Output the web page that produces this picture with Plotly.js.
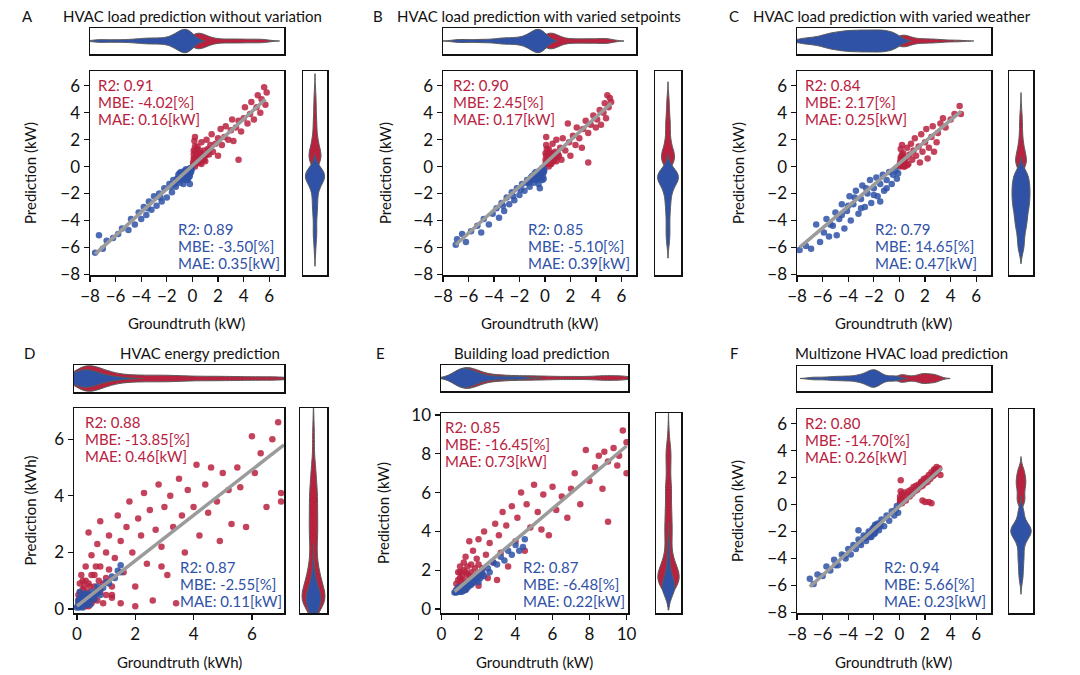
<!DOCTYPE html>
<html>
<head>
<meta charset="utf-8">
<script src="https://cdn.plot.ly/plotly-3.0.1.min.js"></script>
<style>
  body { margin: 0; background: #fff; }
  #chart { width: 1080px; height: 675px; }
</style>
</head>
<body>
<div id="chart"></div>
<script>
// ---- data (groundtruth x, prediction y) ----
// points are densest close to the origin, which is what the marginal violins show

// A: without variation
const aRedX = [0.05,0.1,0.1,0.15,0.2,0.3,0.4,0.5,0.6,0.7, 0.8,0.9,1.0,1.1,1.2,1.3,1.4,1.5,1.6,1.8, 2.0,2.0,2.2,2.3,2.5,2.6,2.8,3.0,3.1,3.2, 3.4,3.6,3.6,3.8,4.0,4.1,4.3,4.5,4.6,4.8, 5.0,5.1,5.3,5.4,5.6,5.7,5.8,0.2,0.3,0.5, 0.7,0.4,1.0,0.2, 0.05,0.1,0.15,0.2,0.25,0.3,0.35,0.4,0.45,0.5, 0.55,0.6,0.65,0.7,0.8,0.9,1.1,1.3];
const aRedY = [0.1,0.6,1.2,1.9,2.2,0.4,1.5,0.3,0.9,1.8, 0.5,1.2,0.8,2.0,1.3,0.9,1.6,2.4,1.1,1.7, 0.8,2.1,2.8,1.6,2.2,3.0,2.0,2.7,3.5,1.9, 2.9,0.5,3.4,2.6,3.6,4.4,3.2,3.9,4.8,3.5, 4.4,5.3,4.0,5.0,5.9,4.6,5.5,0.0,0.9,1.0, 0.2,0.7,0.4,1.5, 0.3,0.9,0.5,1.1,0.2,0.6,1.3,0.4,0.9,0.6, 1.2,0.3,0.8,1.0,0.7,0.5,0.9,1.2];
const aBlueX = [-7.6,-7.3,-7.0,-6.7,-6.2,-5.8,-5.5,-5.0,-4.8,-4.5, -4.2,-4.0,-3.8,-3.6,-3.4,-3.2,-3.0,-2.8,-2.6,-2.4, -2.2,-2.0,-1.8,-1.6,-1.5,-1.3,-1.1,-1.0,-0.9,-0.8, -0.7,-0.6,-0.5,-0.4,-0.3,-0.2,-0.1,-0.2,-0.5,-1.2, -2.5,-3.5,-0.8,-0.3,-1.7, -0.05,-0.1,-0.15,-0.2,-0.25,-0.3,-0.35,-0.4,-0.45,-0.5, -0.55,-0.6,-0.7,-0.75,-0.85,-0.95,-1.0,-1.1,-1.3,-1.4];
const aBlueY = [-6.4,-5.1,-6.1,-5.5,-5.3,-5.0,-4.6,-4.7,-3.9,-4.3, -3.4,-3.9,-3.0,-3.6,-2.6,-3.2,-2.2,-2.9,-2.0,-2.6, -1.6,-2.3,-1.3,-1.9,-1.0,-1.5,-0.6,-1.2,-0.4,-0.9, -1.3,-0.3,-0.7,-1.0,-0.2,-0.5,-0.1,-1.3,-0.2,-0.9, -2.3,-3.1,-0.6,-0.8,-1.5, -0.2,-0.4,-0.1,-0.7,-0.3,-0.5,-0.9,-0.4,-0.6,-0.4, -1.0,-0.6,-0.5,-0.8,-0.7,-1.0,-0.5,-0.9,-1.1,-1.3];
const aFitX = [-7.6, 5.7];
const aFitY = [-6.5, 5.0];

// B: varied setpoints
const bRedX = [0.05,0.05,0.1,0.1,0.2,0.3,0.4,0.5,0.6,0.7, 0.8,0.9,1.0,1.2,1.3,1.4,1.6,1.8,1.9,2.0, 2.2,2.4,2.5,2.7,2.9,3.0,3.2,3.4,3.4,3.6, 3.8,4.0,4.1,4.3,4.4,4.6,4.7,4.8,5.0,5.1, 5.2,4.9,0.3,0.6,0.2, 0.05,0.1,0.1,0.15,0.2,0.25,0.3,0.4,0.45,0.5, 0.55,0.6,0.7,0.8,0.9,1.0,1.1];
const bRedY = [0.2,1.0,1.6,2.2,0.5,1.3,0.2,0.9,1.7,0.4, 1.1,2.0,0.7,1.4,0.5,2.1,1.2,3.2,1.8,0.8, 2.3,1.6,2.9,2.1,1.4,2.8,3.4,0.3,2.5,3.1, 3.8,2.9,3.5,4.2,3.1,4.0,4.7,3.6,4.4,5.1, 4.8,5.3,0.0,0.6,1.0, 0.5,0.3,0.8,1.3,0.2,0.7,0.4,1.0,0.5,0.2, 0.7,1.0,0.6,0.8,0.4,1.0,0.8];
const bBlueX = [-7.0,-6.9,-6.5,-6.2,-5.8,-5.3,-5.0,-4.8,-4.4,-4.1, -3.8,-3.6,-3.4,-3.2,-3.0,-2.8,-2.6,-2.4,-2.2,-2.0, -1.8,-1.6,-1.4,-1.2,-1.0,-0.9,-0.7,-0.6,-0.5,-0.4, -0.3,-0.2,-0.1,-0.2,-0.5,-1.3,-2.5,-0.8,-0.1,-1.9, -3.3,-0.4, -0.05,-0.1,-0.15,-0.2,-0.25,-0.3,-0.35,-0.4,-0.45,-0.5, -0.6,-0.65,-0.7,-0.8,-0.9,-1.0,-1.1,-1.2,-1.4];
const bBlueY = [-5.8,-5.4,-5.0,-5.6,-4.8,-4.4,-4.9,-3.9,-4.3,-3.5, -3.1,-3.8,-2.7,-3.3,-2.3,-2.8,-1.9,-2.5,-1.6,-2.1, -1.3,-1.8,-1.0,-1.5,-0.7,-1.2,-0.4,-0.9,-1.3,-0.3, -0.7,-0.1,-0.4,-1.0,-0.6,-1.2,-2.2,-0.8,-0.9,-1.7, -2.9,-1.6, -0.3,-0.2,-0.6,-0.4,-0.8,-0.3,-0.5,-0.9,-0.4,-0.7, -0.5,-1.0,-0.7,-0.5,-0.9,-1.0,-0.8,-1.1,-1.2];
const bFitX = [-7.0, 5.2];
const bFitY = [-5.8, 4.7];

// C: varied weather
const cRedX = [0.05,0.1,0.1,0.2,0.3,0.4,0.5,0.6,0.7,0.8, 0.9,1.0,1.1,1.2,1.3,1.5,1.6,1.7,1.8,2.0, 2.1,2.2,2.3,2.5,2.6,2.7,2.9,3.0,3.2,3.4, 3.6,4.0,4.3,4.7,4.8,0.3,0.2,0.6, 0.05,0.1,0.1,0.15,0.2,0.25,0.3,0.35,0.4,0.05, 0.2,0.45,0.15,0.3];
const cRedY = [0.1,0.7,1.3,0.3,1.0,0.0,0.6,1.4,0.2,0.9, 1.7,0.5,1.2,2.1,0.8,1.5,0.3,2.4,1.1,1.8, 2.8,0.6,1.4,2.2,3.0,1.1,1.8,2.5,3.2,3.6, 2.9,3.5,3.9,4.5,3.9,0.5,1.6,0.1, 0.3,0.1,0.5,0.2,0.6,0.1,0.3,0.0,0.5,0.0, 0.9,0.2,0.4,0.7];
const cBlueX = [-7.8,-7.3,-6.9,-6.5,-6.2,-5.9,-5.7,-5.5,-5.2,-5.0, -4.9,-4.7,-4.5,-4.3,-4.1,-3.9,-3.8,-3.6,-3.4,-3.2, -3.0,-2.9,-2.7,-2.5,-2.3,-2.2,-2.0,-1.8,-1.7,-1.5, -1.3,-1.2,-1.0,-0.8,-0.6,-0.5,-0.3,-0.2,-0.1,-4.0, -3.0,-2.0,-1.5,-4.5,-2.6,-3.5,-1.0,-5.4];
const cBlueY = [-6.2,-5.9,-6.1,-4.3,-5.6,-4.9,-3.9,-5.2,-4.4,-3.4, -5.1,-3.9,-2.8,-4.6,-3.3,-2.2,-4.0,-2.8,-1.8,-3.5, -2.4,-1.4,-3.0,-2.0,-1.0,-2.7,-1.6,-0.8,-2.2,-1.3, -0.6,-1.8,-1.0,-0.4,-1.3,-0.6,-0.3,-0.9,-0.5,-2.9, -3.1,-2.1,-2.6,-3.6,-1.6,-2.3,-1.6,-4.3];
const cFitX = [-7.8, 4.8];
const cFitY = [-6.0, 4.1];

// D: HVAC energy
const dRedX = [0.1,0.2,0.2,0.3,0.3,0.4,0.4,0.5,0.5,0.6, 0.7,0.7,0.8,0.8,0.9,1.0,1.0,1.1,1.2,1.3, 1.4,1.5,1.5,1.6,1.7,1.8,1.9,2.0,2.1,2.2, 2.3,2.4,2.5,2.6,2.7,2.8,2.9,3.0,3.1,3.2, 3.3,3.4,3.5,3.6,3.7,3.8,4.0,4.1,4.2,4.4, 4.5,4.6,4.8,4.9,5.0,5.2,5.3,5.5,5.6,5.8, 6.0,6.1,6.3,6.5,6.7,6.9,7.0,7.0,2.9,1.2, 0.6,0.3,2.0,0.1,0.15,0.2,0.25,0.1,0.05,0.35, 0.4,0.15, 0.05,0.1,0.1,0.15,0.2,0.2,0.25,0.3,0.3,0.35, 0.4,0.45,0.5,0.5,0.55,0.6,0.65,0.7,0.75,0.8, 0.9,1.0,1.1,1.2];
const dRedY = [0.3,1.0,0.1,1.5,0.5,2.7,0.9,1.9,0.2,1.2, 2.3,0.6,3.1,1.5,0.2,2.0,1.1,2.6,0.5,1.8, 3.3,2.4,0.2,1.3,2.9,3.8,2.0,0.8,3.2,2.6, 4.1,1.6,3.5,0.3,2.8,4.4,2.2,3.6,1.2,4.0, 2.9,0.2,4.6,3.3,2.0,4.2,3.6,5.1,2.6,4.4, 3.4,5.0,3.8,2.4,4.8,4.2,3.0,5.0,4.3,2.9, 6.1,4.8,5.5,3.6,6.0,6.6,4.1,3.8,1.5,0.4, 0.4,0.2,0.1,0.6,0.2,0.4,0.8,0.1,0.3,0.3, 0.1,1.2, 0.5,0.2,0.9,0.4,0.2,0.7,0.3,1.0,0.1,0.6, 0.3,0.8,0.5,1.2,0.3,0.8,1.5,0.3,1.0,0.6, 0.9,0.5,1.4,0.8];
const dBlueX = [0.0,0.05,0.1,0.1,0.15,0.2,0.2,0.25,0.3,0.3, 0.35,0.4,0.4,0.5,0.5,0.6,0.7,0.7,0.8,0.9, 1.0,1.1,1.2,1.3,1.4,1.5,1.5,0.05,0.15,0.3, 0.6,0.8,0.1,0.2,0.45, 0.02,0.05,0.08,0.1,0.12,0.15,0.18,0.2,0.22,0.25, 0.28,0.3,0.33,0.38,0.42,0.48,0.55,0.65];
const dBlueY = [0.05,0.3,0.15,0.4,0.1,0.3,0.5,0.2,0.4,0.15, 0.35,0.5,0.25,0.4,0.6,0.5,0.55,0.8,0.7,0.75, 0.95,0.9,1.15,1.1,1.35,1.3,1.55,0.1,0.25,0.55, 0.35,0.5,0.6,0.05,0.15, 0.1,0.2,0.05,0.25,0.15,0.35,0.2,0.15,0.4,0.3, 0.25,0.3,0.45,0.3,0.4,0.5,0.45,0.6];
const dFitX = [0.0, 7.1];
const dFitY = [0.1, 5.8];

// E: building load
const eRedX = [0.8,1.0,1.0,1.2,1.3,1.4,1.5,1.5,1.6,1.7, 1.8,1.9,2.0,2.0,2.2,2.3,2.4,2.5,2.6,2.8, 2.9,3.0,3.1,3.2,3.3,3.5,3.6,3.8,4.0,4.1, 4.3,4.5,4.6,4.8,5.0,5.2,5.4,5.5,5.8,6.0, 6.2,6.5,6.8,7.0,7.2,7.5,7.8,8.0,8.3,8.5, 8.7,8.8,9.0,9.0,9.3,9.5,9.8,10.0,10.0,9.6, 1.1,1.3,0.9,1.6,1.2,2.1, 0.8,0.9,0.9,1.0,1.0,1.1,1.1,1.2,1.2,1.3, 1.3,1.4,1.4,1.5,1.6,1.7,1.8,1.9,2.0,2.2];
const eRedY = [1.0,1.6,2.2,1.2,2.7,1.8,3.5,1.3,2.3,3.0, 1.6,2.6,3.6,1.2,2.1,4.0,2.8,1.6,3.4,2.4, 4.4,1.5,3.8,2.9,5.0,4.3,2.2,5.3,3.5,4.7, 6.0,3.0,5.4,4.2,6.4,5.0,4.1,5.9,3.8,6.3, 5.1,5.8,4.7,6.2,7.0,5.4,8.2,6.6,7.3,7.9, 6.2,8.1,4.5,7.6,8.3,7.4,9.2,7.0,8.6,7.9, 1.4,1.0,1.9,1.5,2.0,1.7, 1.3,1.1,1.5,1.2,1.9,1.7,1.1,1.5,2.4,1.3, 1.9,1.4,2.2,1.7,1.9,1.4,2.1,1.8,2.3,1.8];
const eBlueX = [0.7,0.8,0.9,1.0,1.0,1.1,1.2,1.2,1.3,1.4, 1.5,1.5,1.6,1.7,1.8,1.9,2.0,2.0,2.2,2.3, 2.5,2.6,2.8,3.0,3.2,3.4,3.6,3.8,4.0,4.2, 4.5,4.4,1.1,0.9,1.3,1.6,2.1, 0.75,0.8,0.85,0.9,0.95,1.0,1.05,1.1,1.15,1.2, 1.25,1.3,1.35,1.4,1.45,1.5,1.6,1.7];
const eBlueY = [0.85,0.95,0.9,1.0,1.15,1.05,1.2,0.95,1.25,1.1, 1.4,1.2,1.45,1.35,1.6,1.5,1.8,1.4,1.9,1.7, 2.1,1.9,2.4,2.3,2.7,2.5,3.0,2.8,3.3,3.0, 3.6,3.2,0.9,1.1,1.0,1.25,1.6, 0.9,0.85,1.0,0.95,1.05,0.9,1.1,1.0,1.15,1.05, 1.1,1.15,1.2,1.25,1.3,1.3,1.35,1.5];
const eFitX = [0.7, 10.0];
const eFitY = [0.9, 8.4];

// F: multizone HVAC load
const fRedX = [0.05,0.05,0.1,0.1,0.15,0.2,0.3,0.4,0.5,0.6, 0.7,0.8,0.9,1.0,1.1,1.2,1.3,1.4,1.5,1.6, 1.7,1.8,1.8,1.9,2.0,2.0,2.1,2.2,2.3,2.3, 2.4,2.5,2.5,2.6,2.7,2.8,2.9,3.0,3.1,3.2, 1.9,2.0,1.7,2.8,2.9,0.2, 0.05,0.1,0.05,0.1,0.15, 1.75,1.8,1.85,1.8,1.9, 2.65,2.7,2.75,2.7];
const fRedY = [0.2,0.6,1.0,1.8,0.4,0.8,0.5,0.9,0.3,0.7, 1.0,0.6,1.1,0.8,1.3,1.0,1.4,1.1,1.5,1.3, 1.7,1.5,0.3,1.9,1.6,0.2,2.0,1.7,2.2,0.2, 1.9,2.4,0.1,2.1,2.6,2.3,2.8,2.5,2.7,2.2, 1.7,1.8,1.6,2.6,2.5,0.1, 0.1,0.3,0.4,0.15,0.2, 1.5,1.6,1.7,1.4,1.6, 2.3,2.4,2.5,2.2];
const fBlueX = [-7.0,-6.7,-6.4,-6.0,-5.7,-5.4,-5.1,-4.8,-4.5,-4.2, -4.0,-3.8,-3.6,-3.4,-3.2,-3.0,-2.8,-2.6,-2.4,-2.2, -2.0,-1.9,-1.8,-1.6,-1.4,-1.2,-1.0,-0.8,-0.6,-0.4, -0.2,-0.1,-2.1,-2.3,-1.7,-2.5,-3.1,-1.5,-4.3,-5.0, -2.7,-0.3,-3.2, -1.8,-1.9,-2.0,-2.1,-2.2,-2.0,-1.9,-2.3,-2.4,-1.7, -2.6,-1.5];
const fBlueY = [-5.5,-5.9,-5.2,-5.3,-4.6,-4.9,-4.1,-4.5,-3.7,-4.0, -3.3,-3.7,-3.0,-3.3,-2.6,-3.0,-2.3,-2.7,-2.0,-2.4, -1.7,-2.1,-1.5,-1.9,-1.1,-1.6,-0.8,-1.2,-0.5,-0.8, -0.1,-0.6,-2.0,-2.1,-1.6,-2.3,-2.8,-1.4,-3.8,-4.5, -2.5,-0.4,-1.9, -1.8,-1.8,-1.9,-1.8,-2.1,-2.2,-1.5,-2.4,-2.2,-1.4, -2.4,-1.6];
const fFitX = [-7.0, 3.3];
const fFitY = [-6.1, 2.7];

// metrics printed in each panel (A..F)
const titles = ['HVAC load prediction without variation', 'HVAC load prediction with varied setpoints',
  'HVAC load prediction with varied weather', 'HVAC energy prediction', 'Building load prediction',
  'Multizone HVAC load prediction'];
const letters = ['A', 'B', 'C', 'D', 'E', 'F'];
const redR2 = ['0.91', '0.90', '0.84', '0.88', '0.85', '0.80'];
const redMBE = ['-4.02', '2.45', '2.17', '-13.85', '-16.45', '-14.70'];
const redMAE = ['0.16', '0.17', '0.25', '0.46', '0.73', '0.26'];
const blueR2 = ['0.89', '0.85', '0.79', '0.87', '0.87', '0.94'];
const blueMBE = ['-3.50', '-5.10', '14.65', '-2.55', '-6.48', '5.66'];
const blueMAE = ['0.35', '0.39', '0.47', '0.11', '0.22', '0.23'];
const units = ['kW', 'kW', 'kW', 'kWh', 'kW', 'kW'];

const ticksLoad = [-8, -6, -4, -2, 0, 2, 4, 6];
const ticksEnergy = [0, 2, 4, 6];
const ticksBuilding = [0, 2, 4, 6, 8, 10];

// ---- look ----
const W = 1080, H = 675;
const FONT = 'Lato, "Open Sans", sans-serif';
const RED = '#b8223f';
const BLUE = '#2f52a6';

// pixel boxes of every panel: scatter, top violin, right violin
// vw = violin widths [top blue, top red, right blue, right red], bw = kde bandwidth
const boxes = [
  {sx: [90, 284], sy: [71, 275], ty: [28, 54], vx: [303, 327], xr: [-8, 7.15], yr: [-8.05, 7.1], ticks: ticksLoad,
   letterX: 27, titleX: 192, titleY: 16, xtY: 323, ytX: 30, redL: 96, blueL: 176, vw: [1.8, 1.2, 1.6, 1.0], bw: 0.5},
  {sx: [443, 636], sy: [71, 275], ty: [28, 54], vx: [655, 681], xr: [-8, 7.15], yr: [-8.05, 7.1], ticks: ticksLoad,
   letterX: 378, titleX: 539, titleY: 16, xtY: 323, ytX: 385, redL: 451, blueL: 526, vw: [1.8, 1.2, 1.6, 1.0], bw: 0.5},
  {sx: [797, 991], sy: [71, 275], ty: [28, 54], vx: [1009, 1033], xr: [-8, 7.15], yr: [-8.05, 7.1], ticks: ticksLoad,
   letterX: 734, titleX: 892, titleY: 16, xtY: 323, ytX: 738, redL: 803, blueL: 873, vw: [1.7, 0.9, 1.5, 0.9], bw: 0.5},
  {sx: [74, 284], sy: [408, 613], ty: [365, 392], vx: [300, 327], xr: [-0.1, 7.1], yr: [-0.14, 7.1], ticks: ticksEnergy,
   letterX: 29, titleX: 200, titleY: 353, xtY: 662, ytX: 30, redL: 83, blueL: 178, vw: [1.3, 1.9, 1.1, 1.7], bw: 0.38},
  {sx: [441, 628], sy: [413, 613], ty: [365, 391], vx: [656, 681], xr: [-0.03, 10.08], yr: [-0.2, 10.1], ticks: ticksBuilding,
   letterX: 380, titleX: 532, titleY: 353, xtY: 662, ytX: 383, redL: 443, blueL: 521, vw: [1.5, 1.6, 1.0, 1.7], bw: 0.45},
  {sx: [797, 991], sy: [409, 613], ty: [366, 391], vx: [1009, 1033], xr: [-8, 7.15], yr: [-8.05, 7.1], ticks: ticksLoad,
   letterX: 734, titleX: 901, titleY: 353, xtY: 662, ytX: 737, redL: 803, blueL: 882, vw: [1.4, 0.8, 1.7, 0.8], bw: 0.38}
];

const series = [
  [aRedX, aRedY, aBlueX, aBlueY, aFitX, aFitY],
  [bRedX, bRedY, bBlueX, bBlueY, bFitX, bFitY],
  [cRedX, cRedY, cBlueX, cBlueY, cFitX, cFitY],
  [dRedX, dRedY, dBlueX, dBlueY, dFitX, dFitY],
  [eRedX, eRedY, eBlueX, eBlueY, eFitX, eFitY],
  [fRedX, fRedY, fBlueX, fBlueY, fFitX, fFitY]
];

function px(x) { return x / W; }
function py(y) { return 1 - y / H; }
function ref(n) { return n === 1 ? '' : String(n); }

function ann(text, x, y, extra) {
  return Object.assign({
    text: text, x: px(x), y: py(y), xref: 'paper', yref: 'paper', showarrow: false,
    xanchor: 'center', yanchor: 'middle', font: {family: FONT, size: 15, color: '#111'}
  }, extra || {});
}

const traces = [];
const layout = {
  width: W, height: H,
  margin: {l: 0, r: 0, t: 0, b: 0},
  paper_bgcolor: '#fff', plot_bgcolor: '#fff',
  showlegend: false,
  font: {family: FONT, color: '#111'},
  annotations: []
};

const frame = {
  showline: true, mirror: true, linecolor: '#111', linewidth: 1.5,
  showgrid: false, zeroline: false
};

boxes.forEach(function (b, k) {
  const s = series[k];
  const nS = 3 * k + 1, nT = 3 * k + 2, nR = 3 * k + 3;
  const tickStyle = {tickmode: 'array', tickvals: b.ticks, ticks: 'outside', ticklen: 5, tickwidth: 1.3,
    tickcolor: '#111', tickfont: {family: FONT, size: 17, color: '#111'}};

  // scatter axes
  layout['xaxis' + ref(nS)] = Object.assign({}, frame, tickStyle, {
    domain: [px(b.sx[0]), px(b.sx[1])], anchor: 'y' + ref(nS), range: b.xr, type: 'linear'
  });
  layout['yaxis' + ref(nS)] = Object.assign({}, frame, tickStyle, {
    domain: [py(b.sy[1]), py(b.sy[0])], anchor: 'x' + ref(nS), range: b.yr, type: 'linear'
  });
  // top violin axes
  layout['xaxis' + ref(nT)] = Object.assign({}, frame, {
    domain: [px(b.sx[0]), px(b.sx[1])], anchor: 'y' + ref(nT), range: b.xr, type: 'linear',
    showticklabels: false, ticks: ''
  });
  layout['yaxis' + ref(nT)] = Object.assign({}, frame, {
    domain: [py(b.ty[1]), py(b.ty[0])], anchor: 'x' + ref(nT), range: [-1, 1], type: 'linear',
    showticklabels: false, ticks: ''
  });
  // right violin axes
  layout['xaxis' + ref(nR)] = Object.assign({}, frame, {
    domain: [px(b.vx[0]), px(b.vx[1])], anchor: 'y' + ref(nR), range: [-1, 1], type: 'linear',
    showticklabels: false, ticks: ''
  });
  layout['yaxis' + ref(nR)] = Object.assign({}, frame, {
    domain: [py(b.sy[1]), py(b.sy[0])], anchor: 'x' + ref(nR), range: b.yr, type: 'linear',
    showticklabels: false, ticks: ''
  });

  const xs = 'x' + ref(nS), ys = 'y' + ref(nS);
  traces.push({type: 'scatter', mode: 'markers', x: s[0], y: s[1], xaxis: xs, yaxis: ys,
    marker: {color: RED, size: 6.5, opacity: 0.85}, hoverinfo: 'skip'});
  traces.push({type: 'scatter', mode: 'markers', x: s[2], y: s[3], xaxis: xs, yaxis: ys,
    marker: {color: BLUE, size: 6.5, opacity: 0.85}, hoverinfo: 'skip'});
  traces.push({type: 'scatter', mode: 'lines', x: s[4], y: s[5], xaxis: xs, yaxis: ys,
    line: {color: '#9b9b9b', width: 3.5}, hoverinfo: 'skip'});

  // marginal violins: groundtruth on top, prediction on the right (red under blue)
  const vstyle = {type: 'violin', points: false, box: {visible: false}, meanline: {visible: false},
    line: {color: '#5a5a5a', width: 1}, spanmode: 'soft', side: 'both', bandwidth: b.bw,
    scalemode: 'width', hoverinfo: 'skip'};
  traces.push(Object.assign({}, vstyle, {x: s[0], y0: 0, orientation: 'h', fillcolor: RED, width: b.vw[1],
    xaxis: 'x' + ref(nT), yaxis: 'y' + ref(nT)}));
  traces.push(Object.assign({}, vstyle, {x: s[2], y0: 0, orientation: 'h', fillcolor: BLUE, width: b.vw[0],
    xaxis: 'x' + ref(nT), yaxis: 'y' + ref(nT)}));
  traces.push(Object.assign({}, vstyle, {y: s[1], x0: 0, orientation: 'v', fillcolor: RED, width: b.vw[3],
    xaxis: 'x' + ref(nR), yaxis: 'y' + ref(nR)}));
  traces.push(Object.assign({}, vstyle, {y: s[3], x0: 0, orientation: 'v', fillcolor: BLUE, width: b.vw[2],
    xaxis: 'x' + ref(nR), yaxis: 'y' + ref(nR)}));

  // titles and axis labels
  layout.annotations.push(ann(letters[k], b.letterX, b.titleY));
  layout.annotations.push(ann(titles[k], b.titleX, b.titleY));
  layout.annotations.push(ann('Groundtruth (' + units[k] + ')', (b.sx[0] + b.sx[1]) / 2, b.xtY));
  layout.annotations.push(ann('Prediction (' + units[k] + ')', b.ytX, (b.sy[0] + b.sy[1]) / 2, {textangle: -90}));

  // metric blocks
  const redLines = ['R2: ' + redR2[k], 'MBE: ' + redMBE[k] + '[%]', 'MAE: ' + redMAE[k] + '[kW]'];
  const blueLines = ['R2: ' + blueR2[k], 'MBE: ' + blueMBE[k] + '[%]', 'MAE: ' + blueMAE[k] + '[kW]'];
  redLines.forEach(function (t, i) {
    layout.annotations.push(ann(t, b.redL, b.sy[0] + 14 + 17 * i,
      {xanchor: 'left', font: {family: FONT, size: 15, color: RED}}));
  });
  blueLines.forEach(function (t, i) {
    layout.annotations.push(ann(t, b.blueL, b.sy[1] - 46 + 17 * i,
      {xanchor: 'left', font: {family: FONT, size: 15, color: BLUE}}));
  });
});

Plotly.newPlot('chart', traces, layout, {displayModeBar: false, staticPlot: true});
</script>
</body>
</html>
